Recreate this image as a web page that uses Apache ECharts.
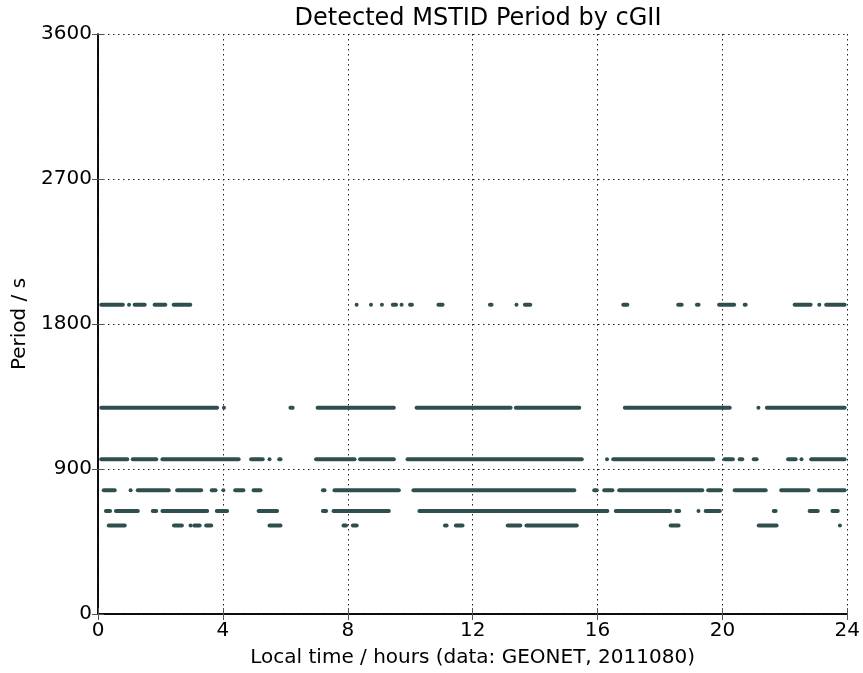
<!DOCTYPE html>
<html>
<head>
<meta charset="utf-8">
<script src="https://cdn.jsdelivr.net/npm/echarts@6/dist/echarts.min.js"></script>
<style>html,body{margin:0;padding:0;background:#fff}#c{width:863px;height:673px}</style>
</head>
<body>
<div id="c"></div>
<script>
// Period levels (s) and detected intervals [start hour, end hour] at each level
const levels = [1920, 1280, 960, 768, 640, 549];
const seg1920 = [[0.04,0.86],[0.93,0.97],[1.11,1.56],[1.75,2.22],[2.36,3.02],[8.22,8.28],[8.68,8.74],[9.03,9.12],[9.38,9.61],[9.66,9.72],[9.93,10.12],[10.84,11.1],[12.49,12.67],[13.34,13.4],[13.61,13.91],[16.76,17.02],[18.52,18.76],[19.12,19.3],[19.83,20.44],[20.65,20.81],[22.25,22.89],[23.04,23.1],[23.26,23.98]];
const seg1280 = [[0.04,3.88],[3.97,4.03],[6.1,6.3],[6.97,9.54],[10.14,13.28],[13.32,15.48],[16.81,20.3],[21.09,21.15],[21.36,23.98]];
const seg960 = [[0.04,1.0],[1.05,1.93],[2.0,4.57],[4.84,5.34],[5.43,5.49],[5.74,5.91],[6.92,8.28],[8.33,9.54],[9.85,15.56],[16.24,16.3],[16.44,19.77],[20.01,20.4],[20.49,20.7],[20.94,21.16],[22.04,22.41],[22.47,22.53],[22.78,23.98]];
const seg768 = [[0.12,0.6],[0.98,1.04],[1.21,2.33],[2.47,3.37],[3.58,3.83],[3.95,4.01],[4.33,4.72],[4.92,5.27],[7.14,7.32],[7.51,9.70],[10.04,15.32],[15.83,16.04],[16.15,16.54],[16.63,19.42],[19.48,20.01],[20.33,21.45],[21.82,22.82],[23.03,23.98]];
const seg640 = [[0.19,0.45],[0.51,1.34],[1.69,1.93],[2.0,3.56],[3.74,4.2],[5.08,5.8],[7.14,7.37],[7.48,9.38],[10.23,16.38],[16.52,18.39],[18.46,18.68],[19.17,19.23],[19.4,19.98],[21.58,21.77],[22.73,23.12],[23.46,23.76]];
const seg549 = [[0.28,0.92],[2.37,2.75],[2.9,2.96],[3.02,3.32],[3.4,3.69],[5.43,5.91],[7.8,8.01],[8.1,8.35],[11.05,11.23],[11.4,11.74],[13.06,13.59],[13.66,15.4],[18.28,18.66],[21.1,21.8],[23.7,23.76]];
const xTicks = [0, 4, 8, 12, 16, 20, 24];
const yTicks = [0, 900, 1800, 2700, 3600];

const allSegs = [seg1920, seg1280, seg960, seg768, seg640, seg549];
const data = [];
allSegs.forEach((segs, i) => segs.forEach(s => data.push([s[0], s[1], levels[i]])));

const FONT = 'DejaVu Sans';
const chart = echarts.init(document.getElementById('c'));
const frame = {show: true, lineStyle: {color: '#000', width: 1.5}};
const grid = {show: true, lineStyle: {color: '#222', width: 1, type: [1.5, 3.5]}};
const tick = {show: true, inside: true, length: 6, lineStyle: {color: '#555'}};
chart.setOption({
  animation: false,
  backgroundColor: '#fff',
  title: {
    text: 'Detected MSTID Period by cGII', left: 473, textAlign: 'center', top: 2,
    textStyle: {fontFamily: FONT, fontSize: 24, fontWeight: 'normal', color: '#000'}
  },
  grid: {left: 98, right: 15, top: 34, bottom: 58},
  xAxis: [{
    type: 'value', min: 0, max: 24, interval: 4,
    name: 'Local time / hours (data: GEONET, 2011080)', nameLocation: 'middle', nameGap: 34,
    nameTextStyle: {fontFamily: FONT, fontSize: 20, color: '#000'},
    axisLine: frame, axisTick: tick,
    axisLabel: {fontFamily: FONT, fontSize: 20, color: '#000', margin: 7,
      formatter: v => xTicks.includes(v) ? String(v) : ''},
    splitLine: grid
  }, {
    type: 'value', min: 0, max: 24, interval: 4, position: 'top',
    axisLine: frame, axisTick: tick,
    axisLabel: {show: false}, splitLine: {show: false}
  }],
  yAxis: [{
    type: 'value', min: 0, max: 3600, interval: 900,
    name: 'Period / s', nameLocation: 'middle', nameGap: 62,
    nameTextStyle: {fontFamily: FONT, fontSize: 20, color: '#000'},
    axisLine: frame, axisTick: tick,
    axisLabel: {fontFamily: FONT, fontSize: 20, color: '#000', margin: 6,
      formatter: v => yTicks.includes(v) ? String(v) : ''},
    splitLine: grid
  }, {
    type: 'value', min: 0, max: 3600, interval: 900, position: 'right',
    axisLine: frame, axisTick: tick,
    axisLabel: {show: false}, splitLine: {show: false}
  }],
  series: [{
    type: 'custom',
    clip: true,
    encode: {x: [0, 1], y: 2},
    data: data,
    renderItem: function (params, api) {
      const s = api.coord([api.value(0), api.value(2)]);
      const e = api.coord([api.value(1), api.value(2)]);
      const w = Math.max(e[0] - s[0], 4);
      return {
        type: 'rect',
        shape: {x: s[0], y: s[1] - 2, width: w, height: 4, r: 2},
        style: {fill: '#2f4f4f'}
      };
    }
  }]
});
</script>
</body>
</html>
